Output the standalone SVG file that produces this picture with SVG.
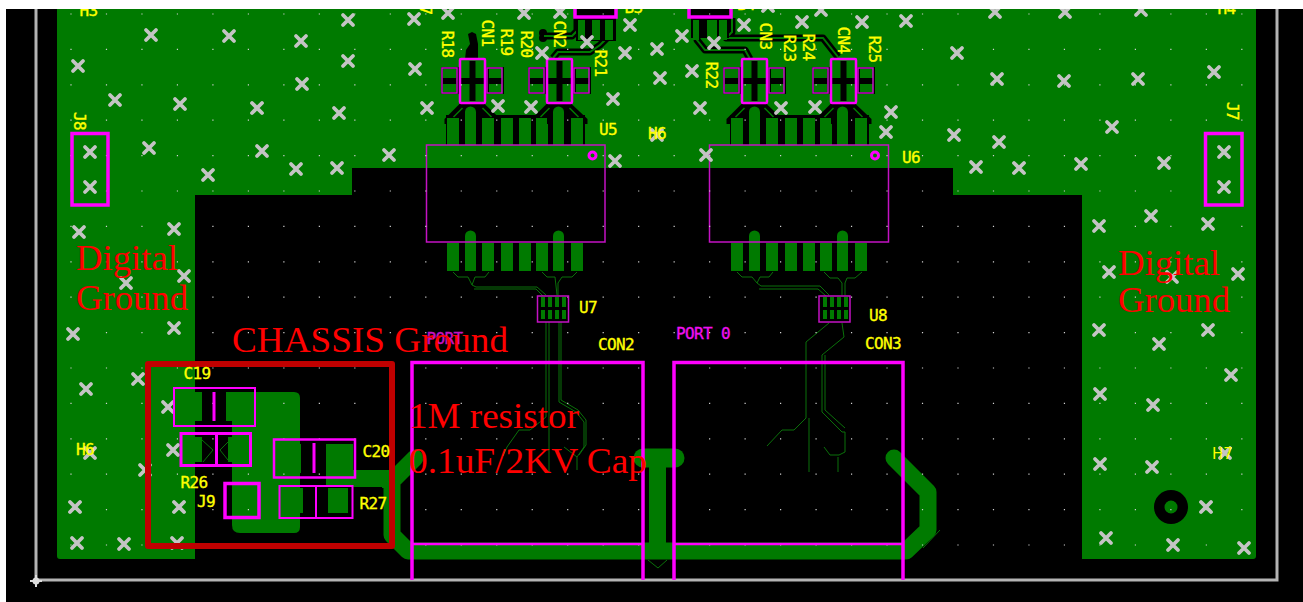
<svg xmlns="http://www.w3.org/2000/svg" xmlns:xlink="http://www.w3.org/1999/xlink" width="1303" height="602" viewBox="0 0 1303 602">
<style>
.g{fill:#007a00}
.k{fill:#000}
.m{fill:none;stroke:#ff00ff}
.m1{stroke-width:1.5;stroke:#c412c4}
.m2{stroke-width:2.5}
.m3{stroke-width:3.5}
.tr{fill:none;stroke:#0a700a;stroke-width:1}
.cl{fill:none;stroke:#000;stroke-width:7;stroke-linejoin:round}
.ci{fill:none;stroke:#007a00;stroke-width:2}
.gt{fill:none;stroke:#007a00;stroke-linejoin:round;stroke-linecap:round}
.y{font-family:"DejaVu Sans Mono","Liberation Mono",monospace;font-size:16px;letter-spacing:-0.6px;fill:#ffff00;stroke:#ffff00;stroke-width:.35;text-anchor:middle;dominant-baseline:central}
.p{fill:#f010f0;stroke:#f010f0}
.r{font-family:"Liberation Serif","Times New Roman",serif;font-size:36px;fill:#ff0000}
</style>
<defs>
<path id="x" d="M-5-5L5 5M5-5L-5 5" fill="none" stroke="#c4c4c4" stroke-width="3.800" stroke-linecap="round"/>
<g id="cn">
<rect class="k" x="-19" y="8" width="63" height="27"/>
<rect class="g" x="-17" y="10" width="13" height="9"/><rect class="g" x="-17" y="25" width="13" height="8"/>
<rect class="g" x="29" y="10" width="13" height="9"/><rect class="g" x="29" y="25" width="13" height="8"/>
<rect class="g" x="0" y="0" width="25" height="44"/>
<rect class="k" x="0" y="19" width="25" height="6"/><rect class="k" x="9.5" y="2" width="6" height="40"/>
<rect class="m m1" x="-18" y="9" width="15" height="25"/><rect class="m m1" x="27" y="9" width="15" height="25"/>
<rect class="m m2" x="0" y="0" width="25" height="44" rx="1"/>
</g>
<g id="fan">
<path class="k" d="M-28 15L-12-1H11L28 15V20H-28Z"/>
<path class="ci" style="stroke-width:1.5" d="M-19 13L-10 4M19 13L10 4"/>
</g>
<g id="padsU">
<rect class="k" x="-1" y="115" width="139" height="30"/>
<g class="g"><rect x="0" y="118" width="12" height="27"/><path d="M18 145V112a5.500 5.500 0 0 1 11 0V145Z"/><rect x="35" y="118" width="12" height="27"/><rect x="54" y="118" width="12" height="27"/><rect x="72" y="118" width="12" height="27"/><rect x="89" y="118" width="12" height="27"/><path d="M106 145V112a5.500 5.500 0 0 1 11 0V145Z"/><rect x="124" y="118" width="12" height="27"/></g>
</g>
<g id="padsL" class="g"><rect x="0" y="243" width="12" height="28"/><path d="M18 271V236a5.500 5.500 0 0 1 11 0V271Z"/><rect x="35" y="243" width="12" height="28"/><rect x="54" y="243" width="12" height="28"/><rect x="72" y="243" width="12" height="28"/><rect x="89" y="243" width="12" height="28"/><path d="M106 271V236a5.500 5.500 0 0 1 11 0V271Z"/><rect x="124" y="243" width="12" height="28"/></g>
<g id="soic" class="g"><rect x="3" y="1" width="4" height="10"/><rect x="10" y="1" width="4" height="10"/><rect x="17" y="1" width="4" height="10"/><rect x="24" y="1" width="4" height="10"/><rect x="3" y="14" width="4" height="9"/><rect x="10" y="14" width="4" height="9"/><rect x="17" y="14" width="4" height="9"/><rect x="24" y="14" width="4" height="9"/></g>
</defs>
<rect width="1303" height="602" fill="#000"/>
<g id="board">
<path d="M36 0V580H1277V0" fill="none" stroke="#b4b4b4" stroke-width="3"/>
<path d="M30 581H42M36 575V587" stroke="#ddd" stroke-width="2"/><circle cx="36" cy="581" r="3.500" fill="#ddd"/>
<path class="g" d="M57 0H1256V556Q1256 559 1253 559H1082V195H953V168H352V195H195V559H60Q57 559 57 556Z"/>
<path class="g" d="M232 392H294Q300 392 300 398V527Q300 533 294 533H240Q232 533 232 525Z"/>
<rect class="g" x="326" y="470" width="67" height="18"/>
<path class="gt" stroke-width="17" d="M415 458L392 481V535L408 551H906L928 530V492L894 458"/>
<path class="gt" stroke-width="19" d="M643 458H675"/>
<rect class="g" x="649" y="449" width="17" height="100"/>
<circle cx="1171" cy="507" r="17" fill="#000"/><circle cx="1171" cy="507" r="6.500" fill="#007a00"/>
</g>
<g id="connectors">
<path class="k" d="M468 34L472 32L476 34L478 44V59H465L466 50L470 44Z"/>
<circle cx="543" cy="33" r="4" fill="#000"/><circle cx="543" cy="38" r="4" fill="#000"/>
<path class="cl" d="M544 36H572L577 31V17"/><path class="ci" d="M544 36H572L577 31V17"/>
<path class="cl" d="M553 58L558 52H590L600 45L612 33V17"/><path class="ci" d="M553 58L558 52H590L600 45L612 33V17"/>
<path class="cl" d="M697 20V40L705 50H745L750 59"/><path class="ci" d="M697 20V40L705 50H745L750 59"/>
<path class="cl" d="M732 18V32L726 38H823L838 57"/><path class="ci" d="M732 18V32L726 38H823L838 57"/>
<path class="tr" d="M453 272L458 277H468L472 285L475 277H485L489 272M472 285L476 287H537L546 295M474 289H536L543 296M542 272L547 277H555L557 295M577 272L572 277H562L558 283V295"/>
<path class="tr" d="M737 272L742 277H752L757 283L760 277H769L773 272M757 283L761 286H820L829 295M759 289H818L826 296M824 272L830 278H838L842 283V295M862 272L855 278H847L845 283V295"/>
<path class="tr" d="M546 322V417L530 430H519L507 447L503 456M549 322V472M559 322V402L576 412L584 422V447L577 457V470M561 322V400L578 410L586 420V445L579 455M564 447L577 457"/>
<path class="tr" d="M829 323L806 342V418L794 430H782L767 446M809 418V472M842 323L844 337L822 355V412L842 432H845V452L839 455H830L824 447M825 355V410L845 428M838 457V472"/>
<path class="tr" d="M648 560L658 568L667 560"/>
<path class="tr" d="M202 440L213 450L203 462M228 442L220 450L228 460"/>
<path class="tr" d="M940 530L923 548"/>
<path class="tr" d="M412 465L395 485"/>
</g>
<g id="U3-top">
<rect class="k" x="576" y="17" width="40" height="24"/><rect class="g" x="578" y="20" width="7" height="20"/><rect class="g" x="592" y="20" width="8" height="20"/><rect class="g" x="605" y="20" width="8" height="20"/>
<path class="k" d="M574 9H617V17H574Z"/>
<rect class="m m3" x="575" y="5" width="41" height="12"/>
<rect class="k" x="691" y="17" width="38" height="21"/><rect class="g" x="693" y="20" width="6" height="20"/><rect class="g" x="707" y="20" width="10" height="20"/><rect class="g" x="719" y="20" width="8" height="20"/>
<path class="k" d="M688 9H732V17H688Z"/>
<rect class="m m3" x="689" y="5" width="42" height="12"/>
</g>
<g id="U5"><use href="#padsU" x="447"/><use href="#padsL" x="447"/>
<use href="#fan" x="472.500" y="104"/><use href="#fan" x="559.500" y="104"/>
<path class="g" d="M465 145V112a5.500 5.500 0 0 1 11 0V145ZM553 145V112a5.500 5.500 0 0 1 11 0V145Z"/>
<g class="g"><rect x="447" y="118" width="12" height="27"/><rect x="482" y="118" width="12" height="27"/><rect x="536" y="118" width="11" height="27"/><rect x="571" y="118" width="12" height="27"/></g>
<rect class="m m1" x="426.500" y="145" width="178.500" height="97"/><circle cx="592.500" cy="155.500" r="3.500" class="g" stroke="#ff00ff" stroke-width="3"/></g>
<g id="U6"><use href="#padsU" x="731"/><use href="#padsL" x="731"/>
<use href="#fan" x="754.500" y="104"/><use href="#fan" x="843.500" y="104"/>
<path class="g" d="M749 145V112a5.500 5.500 0 0 1 11 0V145ZM837 145V112a5.500 5.500 0 0 1 11 0V145Z"/>
<g class="g"><rect x="731" y="118" width="12" height="27"/><rect x="766" y="118" width="12" height="27"/><rect x="820" y="118" width="11" height="27"/><rect x="855" y="118" width="12" height="27"/></g>
<rect class="m m1" x="709.500" y="145" width="179" height="97"/><circle cx="875" cy="155.500" r="3.500" class="g" stroke="#ff00ff" stroke-width="3"/></g>
<g id="CN1"><use href="#cn" x="460" y="59"/></g>
<g id="CN2"><use href="#cn" x="547" y="59"/></g>
<g id="CN3"><use href="#cn" x="742" y="59"/></g>
<g id="CN4"><use href="#cn" x="831" y="59"/></g>
<path d="M70.400 14H1244M70.400 49.400H1244M70.400 84.800H1244M70.400 120.200H1244M70.400 155.600H1244M70.400 191H1244M70.400 226.400H1244M70.400 261.800H1244M70.400 297.200H1244M70.400 332.600H1244M70.400 368H1244M70.400 403.400H1244M70.400 438.800H1244M70.400 474.200H1244M70.400 509.600H1244M70.400 545H1244" fill="none" stroke="#d0d0d0" stroke-width="1.200" stroke-dasharray="1.200 34.280"/>
<g id="vias">
<use href="#x" x="151" y="35"/><use href="#x" x="229" y="36"/><use href="#x" x="301" y="41"/><use href="#x" x="348" y="20"/><use href="#x" x="414" y="19"/><use href="#x" x="78" y="66"/><use href="#x" x="348" y="61"/><use href="#x" x="302" y="84"/><use href="#x" x="415" y="69"/><use href="#x" x="115" y="100"/><use href="#x" x="180" y="104"/><use href="#x" x="257" y="108"/><use href="#x" x="339" y="113"/><use href="#x" x="90" y="152"/><use href="#x" x="90" y="187"/><use href="#x" x="149" y="148"/><use href="#x" x="262" y="151"/><use href="#x" x="296" y="169"/><use href="#x" x="337" y="168"/><use href="#x" x="389" y="155"/><use href="#x" x="208" y="175"/><use href="#x" x="79" y="232"/><use href="#x" x="174" y="229"/><use href="#x" x="184" y="276"/><use href="#x" x="126" y="283"/>
<use href="#x" x="73" y="334"/><use href="#x" x="174" y="328"/><use href="#x" x="138" y="379"/><use href="#x" x="86" y="389"/><use href="#x" x="168" y="407"/><use href="#x" x="173" y="450"/><use href="#x" x="90" y="453"/><use href="#x" x="145" y="470"/><use href="#x" x="75" y="507"/><use href="#x" x="179" y="507"/><use href="#x" x="77" y="543"/><use href="#x" x="124" y="544"/><use href="#x" x="177" y="543"/>
<use href="#x" x="448" y="13"/><use href="#x" x="524" y="13"/><use href="#x" x="560" y="12"/><use href="#x" x="630" y="25"/><use href="#x" x="587" y="42"/><use href="#x" x="542" y="53"/><use href="#x" x="625" y="53"/><use href="#x" x="657" y="49"/><use href="#x" x="682" y="36"/><use href="#x" x="744" y="25"/><use href="#x" x="714" y="43"/><use href="#x" x="802" y="22"/><use href="#x" x="862" y="22"/><use href="#x" x="906" y="21"/><use href="#x" x="660" y="78"/><use href="#x" x="692" y="71"/><use href="#x" x="613" y="99"/><use href="#x" x="427" y="108"/><use href="#x" x="498" y="106"/><use href="#x" x="531" y="107"/><use href="#x" x="700" y="108"/><use href="#x" x="781" y="108"/><use href="#x" x="815" y="107"/><use href="#x" x="891" y="112"/><use href="#x" x="886" y="132"/><use href="#x" x="615" y="161"/><use href="#x" x="706" y="155"/><use href="#x" x="657" y="135"/><use href="#x" x="821" y="10"/><use href="#x" x="768" y="6"/>
<use href="#x" x="995" y="12"/><use href="#x" x="1065" y="12"/><use href="#x" x="1141" y="10"/><use href="#x" x="957" y="53"/><use href="#x" x="997" y="79"/><use href="#x" x="1064" y="81"/><use href="#x" x="1138" y="79"/><use href="#x" x="1214" y="72"/><use href="#x" x="1112" y="127"/><use href="#x" x="954" y="135"/><use href="#x" x="999" y="142"/><use href="#x" x="976" y="167"/><use href="#x" x="1019" y="168"/><use href="#x" x="1081" y="164"/><use href="#x" x="1164" y="163"/><use href="#x" x="1224" y="152"/><use href="#x" x="1224" y="187"/><use href="#x" x="1151" y="216"/><use href="#x" x="1099" y="226"/><use href="#x" x="1208" y="224"/><use href="#x" x="1109" y="272"/><use href="#x" x="1172" y="277"/><use href="#x" x="1238" y="274"/>
<use href="#x" x="1099" y="330"/><use href="#x" x="1159" y="344"/><use href="#x" x="1208" y="330"/><use href="#x" x="1231" y="375"/><use href="#x" x="1100" y="394"/><use href="#x" x="1153" y="405"/><use href="#x" x="1225" y="453"/><use href="#x" x="1100" y="464"/><use href="#x" x="1152" y="467"/><use href="#x" x="1206" y="507"/><use href="#x" x="1106" y="538"/><use href="#x" x="1173" y="545"/><use href="#x" x="1244" y="548"/>
</g>
<g id="J8"><rect class="m m3" x="72" y="133.500" width="36" height="71.500"/></g>
<g id="J7"><rect class="m m3" x="1205.500" y="133.500" width="36.500" height="71.500"/></g>
<g id="U7"><use href="#soic" x="538" y="296"/><rect class="m m1" x="537.500" y="296" width="31" height="26"/></g>
<g id="U8"><use href="#soic" x="820" y="296"/><rect class="m m1" x="819" y="296" width="31" height="26"/></g>
<g id="CON2"><path class="m m3" d="M412 580V362.500H643V580"/><path class="m" stroke-width="2.500" d="M412 544H643"/></g>
<g id="CON3"><path class="m m3" d="M674 580V362.500H903V580"/><path class="m" stroke-width="2.500" d="M674 544H903"/></g>
<g id="C19"><rect class="g" x="175" y="392" width="27" height="29"/><rect class="g" x="226" y="392" width="29" height="29"/><rect class="m" stroke-width="2" x="174" y="388" width="81" height="38"/><path class="m" stroke-width="3" d="M214 392V421"/></g>
<g id="R26"><rect class="g" x="182" y="437" width="20" height="25"/><rect class="g" x="228" y="437" width="22" height="25"/><rect class="m" stroke-width="3" x="181" y="433.500" width="69.500" height="32"/><path class="m" stroke-width="3" d="M216.500 434V465"/></g>
<g id="J9"><rect class="m m3" x="225" y="483.500" width="34" height="34"/></g>
<g id="C20"><rect class="g" x="275" y="444" width="26" height="29"/><rect class="g" x="326" y="444" width="27" height="28"/><rect class="m" stroke-width="2.500" x="274" y="439.500" width="81" height="38"/><path class="m" stroke-width="3" d="M314 443V473"/></g>
<g id="R27"><rect class="k" x="303" y="487" width="79" height="31"/><rect class="g" x="282" y="488" width="21" height="25"/><rect class="g" x="328" y="488" width="20" height="25"/><rect class="m" stroke-width="2" x="279.500" y="486" width="73" height="32"/><path class="m" stroke-width="2" d="M316 486V518"/></g>
<g id="chassis"><rect x="148" y="364" width="244" height="182" fill="none" stroke="#c00000" stroke-width="6" stroke-linejoin="round"/></g>
<g id="labels">
<text class="y" style="dominant-baseline:auto" x="88.500" y="16">H3</text>
<text class="y" style="dominant-baseline:auto" x="1226.500" y="14">H4</text>
<text class="y" style="dominant-baseline:auto" x="633.500" y="13">B3</text>
<text class="y" style="dominant-baseline:auto" x="746" y="10">B4</text>
<text class="y" transform="rotate(90 425.500 10)" x="425.500" y="10">7</text>
<text class="y" transform="rotate(90 79.500 121)" x="79.500" y="121">J8</text>
<text class="y" transform="rotate(90 1232 111)" x="1232" y="111">J7</text>
<text class="y" transform="rotate(90 487 33)" x="487" y="33">CN1</text>
<text class="y" transform="rotate(90 447 44)" x="447" y="44">R18</text>
<text class="y" transform="rotate(90 506 42)" x="506" y="42">R19</text>
<text class="y" transform="rotate(90 526 44)" x="526" y="44">R20</text>
<text class="y" transform="rotate(90 559 34)" x="559" y="34">CN2</text>
<text class="y" transform="rotate(90 600 63)" x="600" y="63">R21</text>
<text class="y" transform="rotate(90 765 36)" x="765" y="36">CN3</text>
<text class="y" transform="rotate(90 711 75)" x="711" y="75">R22</text>
<text class="y" transform="rotate(90 789 48)" x="789" y="48">R23</text>
<text class="y" transform="rotate(90 808 47)" x="808" y="47">R24</text>
<text class="y" transform="rotate(90 843 40)" x="843" y="40">CN4</text>
<text class="y" transform="rotate(90 874 49)" x="874" y="49">R25</text>
<text class="y" x="608" y="129">U5</text>
<text class="y" x="657" y="133">H6</text>
<text class="y" x="911" y="157">U6</text>
<text class="y" x="588" y="307">U7</text>
<text class="y" x="878" y="315">U8</text>
<text class="y" x="616" y="344">CON2</text>
<text class="y" x="883" y="343">CON3</text>
<text class="y" x="197" y="373">C19</text>
<text class="y" x="376" y="451">C20</text>
<text class="y" x="194" y="482">R26</text>
<text class="y" x="206" y="501">J9</text>
<text class="y" x="373" y="503">R27</text>
<text class="y" x="85" y="449">H6</text>
<text x="1212" y="459" style="font-family:'DejaVu Sans',sans-serif;font-size:15px;fill:#ffff00">H7</text>
<text class="y p" x="703" y="333">PORT 0</text>
<text class="y p" style="fill:#c412c4;stroke:#c412c4" x="444.500" y="338">PORT</text>
</g>
<g id="annotations">
<text class="r" x="76" y="270" textLength="102" lengthAdjust="spacingAndGlyphs">Digital</text>
<text class="r" x="76" y="310" textLength="112" lengthAdjust="spacingAndGlyphs">Ground</text>
<text class="r" x="1118" y="275" textLength="102" lengthAdjust="spacingAndGlyphs">Digital</text>
<text class="r" x="1118" y="312" textLength="112" lengthAdjust="spacingAndGlyphs">Ground</text>
<text class="r" x="232" y="352" textLength="276" lengthAdjust="spacingAndGlyphs">CHASSIS Ground</text>
<text class="r" x="409" y="428" textLength="170" lengthAdjust="spacingAndGlyphs">1M resistor</text>
<text class="r" x="409" y="473" textLength="238" lengthAdjust="spacingAndGlyphs">0.1uF/2KV Cap</text>
</g>
<rect width="1303" height="9" fill="#fff"/><rect width="6" height="602" fill="#fff"/>
</svg>
